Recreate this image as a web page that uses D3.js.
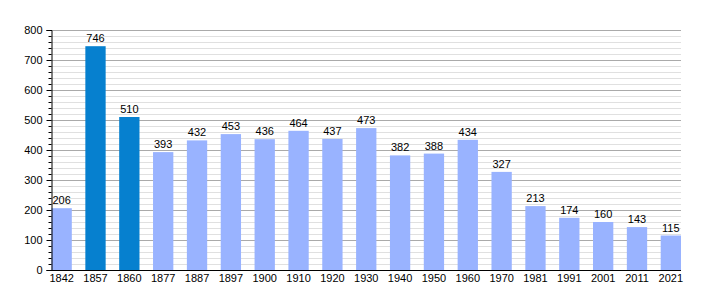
<!DOCTYPE html>
<html>
<head>
<meta charset="utf-8">
<script src="https://cdn.jsdelivr.net/npm/d3@7"></script>
<style>
  body { margin: 0; background: #fff; }
  text { font-family: "Liberation Sans", Arial, sans-serif; }
</style>
</head>
<body>
<svg id="chart" width="710" height="300"></svg>
<script>
// census years and population
var years = ["1842", "1857", "1860", "1877", "1887", "1897", "1900", "1910", "1920", "1930",
             "1940", "1950", "1960", "1970", "1981", "1991", "2001", "2011", "2021"];
var population = [206, 746, 510, 393, 432, 453, 436, 464, 437, 473,
                  382, 388, 434, 327, 213, 174, 160, 143, 115];
// years drawn in the darker colour
var highlighted = ["1857", "1860"];
var yTicks = [0, 100, 200, 300, 400, 500, 600, 700, 800];

var margin = {top: 30, right: 29, bottom: 30, left: 51},
    width = 710 - margin.left - margin.right,
    height = 300 - margin.top - margin.bottom;

var svg = d3.select("#chart")
  .append("g")
  .attr("transform", "translate(" + margin.left + "," + margin.top + ")");

var y = d3.scaleLinear().domain([0, 800]).range([height, 0]);

var x = d3.scaleBand()
  .domain(years)
  .range([0.5, width])
  .paddingInner(0.4)
  .paddingOuter(0);

// minor grid every 20
svg.append("g")
  .selectAll("line")
  .data(d3.range(0, 801, 20).filter(function(d) { return d % 100 != 0; }))
  .enter().append("line")
  .attr("x1", 0).attr("x2", width)
  .attr("y1", function(d) { return Math.round(y(d)) + 0.5; })
  .attr("y2", function(d) { return Math.round(y(d)) + 0.5; })
  .attr("stroke", "#e0e0e0");

// major grid every 100
svg.append("g")
  .selectAll("line")
  .data(yTicks.slice(1))
  .enter().append("line")
  .attr("x1", 0).attr("x2", width)
  .attr("y1", function(d) { return Math.round(y(d)) + 0.5; })
  .attr("y2", function(d) { return Math.round(y(d)) + 0.5; })
  .attr("stroke", "#aaaaaa");

// bars
svg.selectAll("rect.bar")
  .data(population)
  .enter().append("rect")
  .attr("class", "bar")
  .attr("x", function(d, i) { return x(years[i]); })
  .attr("y", function(d) { return y(d); })
  .attr("width", x.bandwidth())
  .attr("height", function(d) { return height - y(d); })
  .attr("fill", function(d, i) { return highlighted.indexOf(years[i]) >= 0 ? "#0680cf" : "#99b3ff"; });

// value labels
svg.selectAll("text.val")
  .data(population)
  .enter().append("text")
  .attr("class", "val")
  .attr("x", function(d, i) { return x(years[i]) + x.bandwidth() / 2; })
  .attr("y", function(d) { return y(d) - 4; })
  .attr("text-anchor", "middle")
  .attr("font-size", "11px")
  .attr("fill", "#000")
  .text(function(d) { return d; });

// y axis with minor ticks
var yAxis = d3.axisLeft(y).tickValues(yTicks).tickSize(5).tickPadding(4);
var yg = svg.append("g").attr("transform", "translate(0.5,0)").call(yAxis);
yg.select(".domain").attr("stroke", "#000");
yg.selectAll("text").attr("font-size", "11px").attr("font-family", "Liberation Sans, Arial, sans-serif");
yg.selectAll(".tick line").attr("stroke", "#000");

var yMinor = d3.axisLeft(y)
  .tickValues(d3.range(0, 801, 20).filter(function(d) { return d % 100 != 0; }))
  .tickSize(3).tickFormat("");
var ymg = svg.append("g").attr("transform", "translate(0.5,0)").call(yMinor);
ymg.select(".domain").remove();
ymg.selectAll(".tick line").attr("stroke", "#000");

// x axis
var xAxis = d3.axisBottom(x).tickSize(0).tickPadding(4);
var xg = svg.append("g").attr("transform", "translate(0," + (height + 0.5) + ")").call(xAxis);
xg.select(".domain").attr("stroke", "#000").attr("d", "M0,0H" + width);
xg.selectAll("text").attr("font-size", "11px").attr("font-family", "Liberation Sans, Arial, sans-serif");
</script>
</body>
</html>
